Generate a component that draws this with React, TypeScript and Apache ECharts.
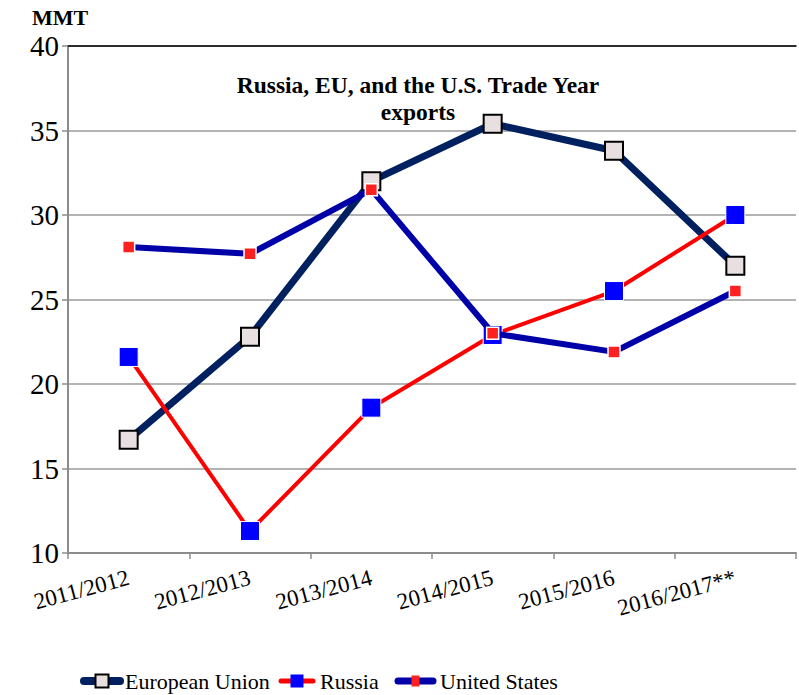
import React, { useEffect, useRef } from "react";
import * as echarts from "echarts";

const categories = ["2011/2012", "2012/2013", "2013/2014", "2014/2015", "2015/2016", "2016/2017**"];
const euValues = [16.7, 22.8, 32.0, 35.4, 33.8, 27.0];
const russiaValues = [21.6, 11.3, 18.6, 22.9, 25.5, 30.0];
const usValues = [28.1, 27.7, 31.5, 23.0, 21.9, 25.5];
const yTicks = { min: 10, max: 40, interval: 5 };
const yTickValues = [10, 15, 20, 25, 30, 35, 40];
const legendNames = ["European Union", "Russia", "United States"];

const FONT = "Liberation Serif";
const EU_LINE = "#002060";
const RU_LINE = "#FF0000";
const US_LINE = "#0000A8";

export default function App() {
  const ref = useRef<HTMLDivElement>(null);
  useEffect(() => {
    if (!ref.current) return;
    const chart = echarts.init(ref.current, null, { renderer: "svg" });
    const mmt = {
      type: "text",
      left: 32,
      top: 6,
      style: { text: "MMT", fontFamily: FONT, fontWeight: "bold", fontSize: 22, fill: "#000" },
    };
    chart.setOption({
      animation: false,
      backgroundColor: "#ffffff",
      textStyle: { fontFamily: FONT },
      title: {
        text: "Russia, EU, and the U.S. Trade Year\nexports",
        left: 413,
        top: 66,
        textAlign: "center",
        textStyle: { fontFamily: FONT, fontWeight: "bold", fontSize: 23.5, color: "#000", lineHeight: 27 },
      },
      graphic: [mmt],
      grid: { left: 68, right: 3, top: 46, bottom: 142, containLabel: false },
      xAxis: [
        {
          type: "category",
          data: categories,
          boundaryGap: true,
          axisLine: { lineStyle: { color: "#8c8c8c", width: 2 } },
          axisTick: { show: true, length: 6, lineStyle: { color: "#8c8c8c", width: 1.5 } },
          axisLabel: { show: false },
        },
        {
          type: "category",
          data: categories,
          position: "top",
          axisLine: { show: true, lineStyle: { color: "#000", width: 1.5 } },
          axisTick: { show: false },
          axisLabel: { show: false },
        },
      ],
      yAxis: {
        type: "value",
        min: yTicks.min,
        max: yTicks.max,
        interval: yTicks.interval,
        axisLine: { show: true, lineStyle: { color: "#8c8c8c", width: 2 } },
        axisTick: { show: true, length: 6, lineStyle: { color: "#8c8c8c", width: 1.5 } },
        splitLine: { show: true, lineStyle: { color: "#9a9a9a", width: 1.5 } },
        axisLabel: { show: false },
      },
      series: [
        {
          name: legendNames[0],
          type: "line",
          data: euValues,
          symbol: "rect",
          symbolSize: 18,
          lineStyle: { color: EU_LINE, width: 7 },
          itemStyle: { color: "#E8E0E0", borderColor: "#000", borderWidth: 2 },
          z: 2,
        },
        {
          name: legendNames[1],
          type: "line",
          data: russiaValues,
          symbol: "rect",
          symbolSize: 19,
          lineStyle: { color: RU_LINE, width: 4 },
          itemStyle: { color: "#0000FF", borderColor: "#ffffff", borderWidth: 1 },
          z: 3,
        },
        {
          name: legendNames[2],
          type: "line",
          data: usValues,
          symbol: "rect",
          symbolSize: 12,
          lineStyle: { color: US_LINE, width: 6 },
          itemStyle: { color: "#FF2020", borderColor: "#ffffff", borderWidth: 1.5 },
          z: 4,
        },
      ],
    });

    // Axis labels placed through the chart's own scales
    const xLabels = categories.map((c, i) => {
      const p = chart.convertToPixel({ seriesIndex: 0 }, [i, yTicks.min]) as number[];
      return {
        type: "text",
        x: p[0],
        y: p[1] + 24,
        rotation: (15 * Math.PI) / 180,
        style: { text: c, fontFamily: FONT, fontSize: 23, fill: "#000", align: "right", verticalAlign: "middle" },
      };
    });
    const yLabels = yTickValues.map((v) => {
      const p = chart.convertToPixel({ seriesIndex: 0 }, [0, v]) as number[];
      const x0 = chart.convertToPixel({ seriesIndex: 0 }, [0, v]) as number[];
      return {
        type: "text",
        x: 59,
        y: p[1],
        style: { text: String(v), fontFamily: FONT, fontSize: 29, fill: "#000", align: "right", verticalAlign: "middle" },
      };
    });

    // Legend
    const ly = 681;
    const legendItems = [
      { x1: 84, x2: 120, lw: 8, stroke: EU_LINE, mw: 13, mh: 13, fill: "#E8E0E0", border: "#000", bw: 2, tx: 125 },
      { x1: 281, x2: 313, lw: 5, stroke: RU_LINE, mw: 13, mh: 13, fill: "#0000FF", border: "#0000FF", bw: 0, tx: 320 },
      { x1: 398, x2: 433, lw: 7, stroke: US_LINE, mw: 8, mh: 11, fill: "#FF2020", border: "#FF2020", bw: 0, tx: 440 },
    ];
    const legendEls = legendItems.flatMap((it, i) => {
      const cx = (it.x1 + it.x2) / 2;
      return [
        {
          type: "line",
          shape: { x1: it.x1, y1: ly, x2: it.x2, y2: ly },
          style: { stroke: it.stroke, lineWidth: it.lw, lineCap: "round" },
        },
        {
          type: "rect",
          shape: { x: cx - it.mw / 2, y: ly - it.mh / 2, width: it.mw, height: it.mh },
          style: { fill: it.fill, stroke: it.border, lineWidth: it.bw },
        },
        {
          type: "text",
          x: it.tx,
          y: ly,
          style: { text: legendNames[i], fontFamily: FONT, fontSize: 22, fill: "#000", align: "left", verticalAlign: "middle" },
        },
      ];
    });

    chart.setOption({ graphic: [mmt, ...xLabels, ...yLabels, ...legendEls] });
    return () => chart.dispose();
  }, []);
  return <div ref={ref} style={{ width: 799, height: 695, position: "absolute", left: 0, top: 0 }} />;
}
